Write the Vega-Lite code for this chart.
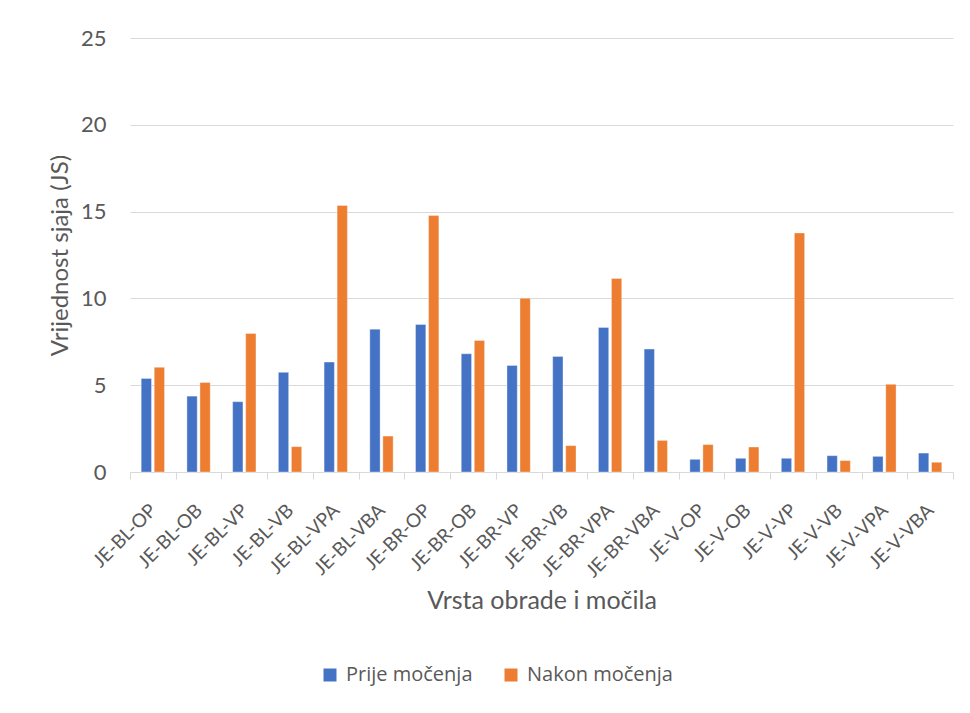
{
  "$schema": "https://vega.github.io/schema/vega-lite/v6.json",
  "autosize": {"type": "none"},
  "width": 823,
  "height": 434,
  "padding": {"left": 130, "top": 38, "right": 17, "bottom": 241},
  "background": "white",
  "config": {
    "view": {"stroke": null},
    "font": "Lato"
  },
  "data": {
    "values": [
      {"kategorija": "JE-BL-OP", "serija": "Prije močenja", "vrijednost": 5.39},
      {"kategorija": "JE-BL-OP", "serija": "Nakon močenja", "vrijednost": 6.03},
      {"kategorija": "JE-BL-OB", "serija": "Prije močenja", "vrijednost": 4.37},
      {"kategorija": "JE-BL-OB", "serija": "Nakon močenja", "vrijednost": 5.16},
      {"kategorija": "JE-BL-VP", "serija": "Prije močenja", "vrijednost": 4.05},
      {"kategorija": "JE-BL-VP", "serija": "Nakon močenja", "vrijednost": 7.98},
      {"kategorija": "JE-BL-VB", "serija": "Prije močenja", "vrijednost": 5.74},
      {"kategorija": "JE-BL-VB", "serija": "Nakon močenja", "vrijednost": 1.46},
      {"kategorija": "JE-BL-VPA", "serija": "Prije močenja", "vrijednost": 6.33},
      {"kategorija": "JE-BL-VPA", "serija": "Nakon močenja", "vrijednost": 15.35},
      {"kategorija": "JE-BL-VBA", "serija": "Prije močenja", "vrijednost": 8.23},
      {"kategorija": "JE-BL-VBA", "serija": "Nakon močenja", "vrijednost": 2.07},
      {"kategorija": "JE-BR-OP", "serija": "Prije močenja", "vrijednost": 8.5},
      {"kategorija": "JE-BR-OP", "serija": "Nakon močenja", "vrijednost": 14.77},
      {"kategorija": "JE-BR-OB", "serija": "Prije močenja", "vrijednost": 6.81},
      {"kategorija": "JE-BR-OB", "serija": "Nakon močenja", "vrijednost": 7.58},
      {"kategorija": "JE-BR-VP", "serija": "Prije močenja", "vrijednost": 6.14},
      {"kategorija": "JE-BR-VP", "serija": "Nakon močenja", "vrijednost": 10.01},
      {"kategorija": "JE-BR-VB", "serija": "Prije močenja", "vrijednost": 6.66},
      {"kategorija": "JE-BR-VB", "serija": "Nakon močenja", "vrijednost": 1.52},
      {"kategorija": "JE-BR-VPA", "serija": "Prije močenja", "vrijednost": 8.33},
      {"kategorija": "JE-BR-VPA", "serija": "Nakon močenja", "vrijednost": 11.15},
      {"kategorija": "JE-BR-VBA", "serija": "Prije močenja", "vrijednost": 7.08},
      {"kategorija": "JE-BR-VBA", "serija": "Nakon močenja", "vrijednost": 1.82},
      {"kategorija": "JE-V-OP", "serija": "Prije močenja", "vrijednost": 0.73},
      {"kategorija": "JE-V-OP", "serija": "Nakon močenja", "vrijednost": 1.58},
      {"kategorija": "JE-V-OB", "serija": "Prije močenja", "vrijednost": 0.79},
      {"kategorija": "JE-V-OB", "serija": "Nakon močenja", "vrijednost": 1.44},
      {"kategorija": "JE-V-VP", "serija": "Prije močenja", "vrijednost": 0.79},
      {"kategorija": "JE-V-VP", "serija": "Nakon močenja", "vrijednost": 13.77},
      {"kategorija": "JE-V-VB", "serija": "Prije močenja", "vrijednost": 0.94},
      {"kategorija": "JE-V-VB", "serija": "Nakon močenja", "vrijednost": 0.66},
      {"kategorija": "JE-V-VPA", "serija": "Prije močenja", "vrijednost": 0.9},
      {"kategorija": "JE-V-VPA", "serija": "Nakon močenja", "vrijednost": 5.05},
      {"kategorija": "JE-V-VBA", "serija": "Prije močenja", "vrijednost": 1.09},
      {"kategorija": "JE-V-VBA", "serija": "Nakon močenja", "vrijednost": 0.56}
    ]
  },
  "mark": {"type": "bar", "stroke": "white", "strokeWidth": 0.6, "strokeOpacity": 0.6},
  "encoding": {
    "x": {
      "field": "kategorija",
      "type": "nominal",
      "sort": null,
      "scale": {"paddingInner": 0, "paddingOuter": 0},
      "axis": {
        "title": "Vrsta obrade i močila",
        "titleFont": "Lato",
        "titleFontSize": 25,
        "titleFontWeight": "normal",
        "titleColor": "#595959",
        "titlePadding": 8,
        "labelFont": "Lato",
        "labelFontSize": 19,
        "labelColor": "#595959",
        "labelAngle": -45,
        "labelAlign": "right",
        "labelBaseline": "middle",
        "labelPadding": 28,
        "tickBand": "extent",
        "tickColor": "#D9D9D9",
        "tickSize": 7,
        "domainColor": "#D9D9D9",
        "domainWidth": 1,
        "grid": false
      }
    },
    "xOffset": {
      "field": "serija",
      "type": "nominal",
      "sort": ["Prije močenja", "Nakon močenja"],
      "scale": {"paddingInner": 0.21, "paddingOuter": 0.86}
    },
    "y": {
      "field": "vrijednost",
      "type": "quantitative",
      "scale": {"domain": [0, 25], "nice": false},
      "axis": {
        "title": "Vrijednost sjaja (JS)",
        "titleFont": "Lato",
        "titleFontSize": 24,
        "titleFontWeight": "normal",
        "titleColor": "#595959",
        "titlePadding": 8,
        "values": [0, 5, 10, 15, 20, 25],
        "labelFont": "Lato",
        "labelFontSize": 22,
        "labelColor": "#595959",
        "labelPadding": 24,
        "ticks": false,
        "tickSize": 0,
        "domain": false,
        "grid": true,
        "gridColor": "#D9D9D9",
        "gridWidth": 1.2
      }
    },
    "color": {
      "field": "serija",
      "type": "nominal",
      "sort": ["Prije močenja", "Nakon močenja"],
      "scale": {"domain": ["Prije močenja", "Nakon močenja"], "range": ["#4472C4", "#ED7D31"]},
      "legend": {
        "title": null,
        "orient": "none",
        "direction": "horizontal",
        "legendX": 190,
        "legendY": 627,
        "symbolType": "square",
        "symbolSize": 169,
        "symbolStrokeWidth": 0,
        "labelFont": "Open Sans",
        "labelFontSize": 20,
        "labelColor": "#595959",
        "labelOffset": 6,
        "columnPadding": 28
      }
    }
  }
}
